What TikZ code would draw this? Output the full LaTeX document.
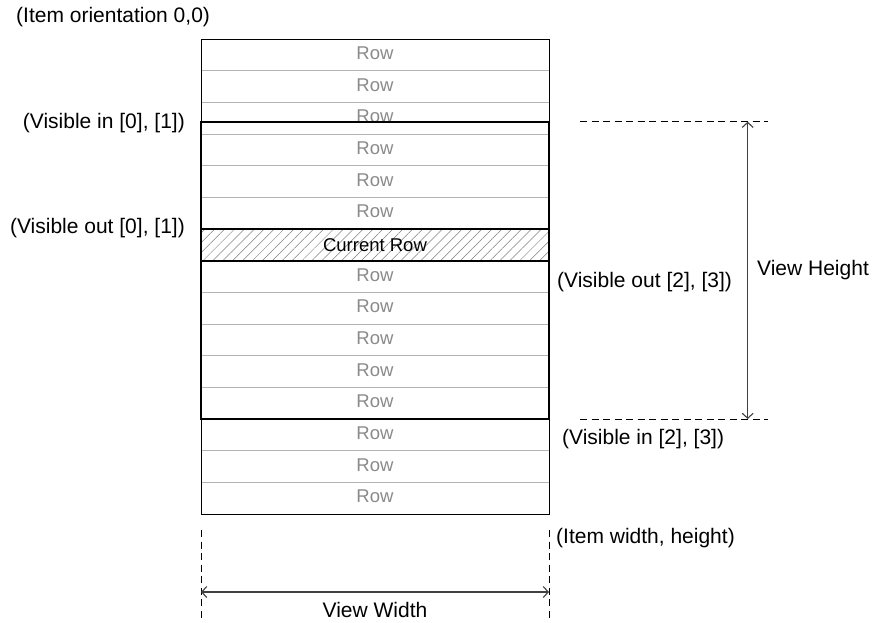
\documentclass[tikz,border=0pt]{standalone}
\usepackage{fontspec}
\setmainfont{Liberation Sans}
\usetikzlibrary{patterns.meta,arrows.meta}
\definecolor{rowgray}{HTML}{8A8A8A}
\definecolor{sepgray}{HTML}{B4B4B4}
\definecolor{dimgray}{HTML}{404040}
\begin{document}
\begin{tikzpicture}[x=1pt,y=-1pt,
  lbl/.style={font=\fontsize{21}{24}\selectfont, inner sep=0pt},
  rowtxt/.style={font=\fontsize{18.5}{22}\selectfont, text=rowgray, inner sep=0pt},
  sep/.style={draw=sepgray, line width=0.9pt},
  thin/.style={draw=black, line width=0.9pt},
  thick/.style={draw=black, line width=1.7pt},
  guide/.style={draw=black, line width=0.8pt, dash pattern=on 7pt off 4.5pt},
  dim/.style={draw=dimgray, line width=1.1pt, {Straight Barb[length=5pt,width=11pt]}-{Straight Barb[length=5pt,width=11pt]}}]
\useasboundingbox (0,0) rectangle (873,622);
% item rectangle
\fill[white] (201,39) rectangle (549,514);
\foreach \i in {1,...,14}{
  \draw[sep] (201,{39+\i*31.667}) -- (549,{39+\i*31.667});
}
\foreach \i in {0,1,2,3,4,5,7,8,9,10,11,12,13,14}{
  \node[rowtxt] (row\i) at (375,{53.3+\i*31.667}) {Row};
}
% hide lower part of partially covered row
\fill[white] (201.8,121.7) rectangle (548.2,133);
\draw[thin] (201,39) rectangle (549,514);
% visible area
\draw[thick] (201,121.7) rectangle (549,419);
% current row
\fill[white] (201,229) rectangle (549,261);
\pattern[pattern={Lines[angle=45,distance=7pt,line width=0.5pt]}, pattern color=gray] (201,229) rectangle (549,261);
\draw[thick] (201,229) rectangle (549,261);
\node[lbl, font=\fontsize{18.5}{22}\selectfont] (cur) at (375,245) {Current Row};
% labels
\node[lbl, anchor=west] (orig) at (16,17) {(Item orientation 0,0)};
\node[lbl, anchor=east] (vin01) at (185,123) {(Visible in [0], [1])};
\node[lbl, anchor=east] (vout01) at (185,228) {(Visible out [0], [1])};
\node[lbl, anchor=west] (vout23) at (557,282) {(Visible out [2], [3])};
\node[lbl, anchor=west] (vh) at (757,270) {View Height};
\node[lbl, anchor=west] (vin23) at (562,439) {(Visible in [2], [3])};
\node[lbl, anchor=west] (iwh) at (556,538) {(Item width, height)};
\node[lbl] (vw) at (375,610) {View Width};
% height dimension
\coordinate (ht1) at (580,121.7);
\coordinate (ht2) at (768,121.7);
\coordinate (hb1) at (580,419);
\coordinate (hb2) at (768,419);
\coordinate (ha) at (747.7,121.7);
\coordinate (hb) at (747.7,419);
\draw[guide] (ht1) -- (ht2);
\draw[guide] (hb1) -- (hb2);
\draw[dim] (ha) -- (hb);
% width dimension
\coordinate (wl1) at (201,530);
\coordinate (wl2) at (201,622);
\coordinate (wr1) at (549,530);
\coordinate (wr2) at (549,622);
\coordinate (wa) at (201,592);
\coordinate (wb) at (549,592);
\draw[guide] (wl1) -- (wl2);
\draw[guide] (wr1) -- (wr2);
\draw[dim] (wa) -- (wb);
\end{tikzpicture}
\end{document}
